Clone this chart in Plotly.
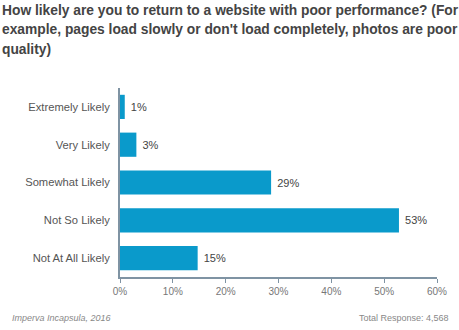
import plotly.graph_objects as go

categories = ["Extremely Likely", "Very Likely", "Somewhat Likely", "Not So Likely", "Not At All Likely"]
values = [0.9, 3.1, 28.6, 52.8, 14.7]
labels = ["1%", "3%", "29%", "53%", "15%"]
tick_vals = [0, 10, 20, 30, 40, 50, 60]
tick_text = ["0%", "10%", "20%", "30%", "40%", "50%", "60%"]

title_lines = ["How likely are you to return to a website with poor performance? (For",
               "example, pages load slowly or don't load completely, photos are poor",
               "quality)"]
source = "Imperva Incapsula, 2016"
total = "Total Response: 4,568"

fig = go.Figure(go.Bar(
    x=values, y=categories, orientation="h",
    marker=dict(color="#0a9acb", line=dict(width=0)),
    width=0.64,
    text=[" " + t for t in labels], textposition="outside", cliponaxis=False,
    textfont=dict(family="Liberation Sans, Arial", size=11, color="#444"),
))

fig.update_layout(
    width=459, height=330,
    margin=dict(l=120, r=22, t=88, b=53),
    paper_bgcolor="white", plot_bgcolor="white",
    showlegend=False,
    font=dict(family="Liberation Sans, Arial", color="#555"),
    xaxis=dict(range=[0, 60], tickvals=tick_vals, ticktext=tick_text,
               showgrid=False, zeroline=False, showline=True,
               linecolor="#7f93a3", linewidth=2,
               ticks="outside", ticklen=4, tickwidth=1, tickcolor="#7f93a3",
               tickfont=dict(size=10, color="#777"), fixedrange=True),
    yaxis=dict(autorange="reversed", showgrid=False, zeroline=False,
               showline=True, linecolor="#7f93a3", linewidth=2,
               ticks="", ticklabelstandoff=6,
               tickfont=dict(size=11.2, color="#555")),
)

for i, line in enumerate(title_lines):
    fig.add_annotation(text="<b>" + line + "</b>", xref="paper", yref="paper",
                       x=-120/317, y=1, xanchor="left", yanchor="bottom",
                       yshift=88 - 20 - 19.5 * i, showarrow=False,
                       font=dict(family="Liberation Sans, Arial", size=13.8, color="#444"))

fig.add_annotation(text="<i>" + source + "</i>", xref="paper", yref="paper",
                   x=-110/317, y=0, xanchor="left", yanchor="middle",
                   yshift=-(318 - 277), showarrow=False,
                   font=dict(family="Liberation Sans, Arial", size=9, color="#888"))
fig.add_annotation(text=total, xref="paper", yref="paper",
                   x=(451 - 120)/317, y=0, xanchor="right", yanchor="middle",
                   yshift=-(318 - 277), showarrow=False,
                   font=dict(family="Liberation Sans, Arial", size=9, color="#888"))

fig.write_html("out.html")
